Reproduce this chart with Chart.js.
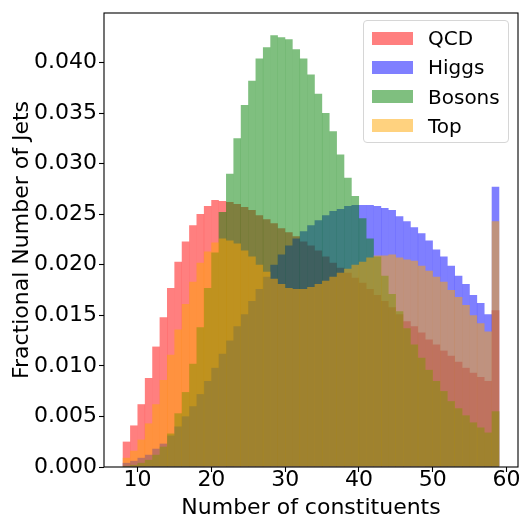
<!DOCTYPE html>
<html>
<head>
<meta charset="utf-8">
<title>Number of constituents</title>
<script src="https://cdn.jsdelivr.net/npm/chart.js@4.4.0/dist/chart.umd.min.js"></script>
<style>
    html, body { margin: 0; padding: 0; background: #fff; }
    #wrap { position: relative; width: 532px; height: 532px; }
    #legend {
        position: absolute; left: 363px; top: 20px; width: 146px; height: 123px;
        box-sizing: border-box; border: 1px solid #d6d6d6; border-radius: 4px;
        background: rgba(255, 255, 255, 0.8);
        font-family: 'DejaVu Sans', sans-serif; font-size: 20px; color: #000;
    }
    #legend .swatch { position: absolute; left: 8px; width: 41px; height: 13px; }
    #legend .label { position: absolute; left: 64px; line-height: 20px; white-space: nowrap; }
</style>
</head>
<body>
<div id="wrap">
    <canvas id="chart" width="532" height="532"></canvas>
    <div id="legend"></div>
</div>
<script>
// Histogram bins: left edge of each unit-wide bin
const binEdges = [8, 9, 10, 11, 12, 13, 14, 15, 16, 17, 18, 19, 20, 21, 22, 23, 24, 25, 26, 27,
    28, 29, 30, 31, 32, 33, 34, 35, 36, 37, 38, 39, 40, 41, 42, 43, 44, 45, 46, 47,
    48, 49, 50, 51, 52, 53, 54, 55, 56, 57, 58];

// Fractional number of jets per bin
const qcd = [0.0025, 0.0041, 0.0062, 0.0088, 0.0119, 0.0148, 0.0177, 0.0203, 0.0223, 0.0239,
    0.0250, 0.0258, 0.0264, 0.0263, 0.0262, 0.0260, 0.0257, 0.0254, 0.0249, 0.0245,
    0.0241, 0.0236, 0.0232, 0.0228, 0.0223, 0.0219, 0.0214, 0.0208, 0.0202, 0.0197,
    0.0192, 0.0187, 0.0182, 0.0176, 0.0170, 0.0164, 0.0158, 0.0151, 0.0144, 0.0139,
    0.0133, 0.0126, 0.0121, 0.0115, 0.0110, 0.0104, 0.0098, 0.0093, 0.0089, 0.0085, 0.0155];
const higgs = [0.0004, 0.0006, 0.0009, 0.0012, 0.0018, 0.0023, 0.0031, 0.0040, 0.0050, 0.0060,
    0.0072, 0.0085, 0.0098, 0.0112, 0.0125, 0.0139, 0.0151, 0.0164, 0.0176, 0.0188,
    0.0200, 0.0210, 0.0219, 0.0226, 0.0233, 0.0239, 0.0244, 0.0249, 0.0253, 0.0255,
    0.0258, 0.0259, 0.0259, 0.0259, 0.0258, 0.0256, 0.0254, 0.0248, 0.0243, 0.0237,
    0.0231, 0.0224, 0.0215, 0.0208, 0.0199, 0.0189, 0.0181, 0.0170, 0.0162, 0.0151, 0.0277];
const bosons = [0.0001, 0.0002, 0.0004, 0.0007, 0.0012, 0.0020, 0.0033, 0.0053, 0.0074, 0.0102,
    0.0138, 0.0177, 0.0212, 0.0252, 0.0290, 0.0325, 0.0358, 0.0382, 0.0404, 0.0415,
    0.0427, 0.0425, 0.0423, 0.0413, 0.0404, 0.0388, 0.0369, 0.0350, 0.0332, 0.0309,
    0.0286, 0.0268, 0.0246, 0.0226, 0.0208, 0.0189, 0.0171, 0.0154, 0.0137, 0.0121,
    0.0108, 0.0096, 0.0085, 0.0075, 0.0065, 0.0058, 0.0051, 0.0044, 0.0039, 0.0034, 0.0055];
const top_ = [0.0009, 0.0016, 0.0027, 0.0043, 0.0062, 0.0086, 0.0111, 0.0136, 0.0161, 0.0183,
    0.0202, 0.0213, 0.0222, 0.0226, 0.0224, 0.0221, 0.0214, 0.0208, 0.0200, 0.0193,
    0.0186, 0.0181, 0.0177, 0.0176, 0.0176, 0.0178, 0.0181, 0.0184, 0.0188, 0.0192,
    0.0196, 0.0200, 0.0203, 0.0207, 0.0209, 0.0209, 0.0210, 0.0207, 0.0205, 0.0204,
    0.0199, 0.0194, 0.0188, 0.0183, 0.0175, 0.0168, 0.0160, 0.0150, 0.0142, 0.0134, 0.0243];

// Axis ticks
const xTicks = [10, 20, 30, 40, 50, 60];
const yTicks = [0, 0.005, 0.010, 0.015, 0.020, 0.025, 0.030, 0.035, 0.040];

(function() {
    const FONT = 'DejaVu Sans';

    function toPoints(values) {
        return values.map((v, i) => ({ x: binEdges[i] + 0.5, y: v }));
    }

    function histDataset(label, values, color, order) {
        return {
            label: label,
            data: toPoints(values),
            backgroundColor: color,
            borderWidth: 0,
            barPercentage: 1.0,
            categoryPercentage: 1.0,
            inflateAmount: 0.1,
            grouped: false,
            order: order   // lower order is drawn on top, like later hist() calls
        };
    }

    // Full box around the plot, drawn over the bars like matplotlib spines
    const framePlugin = {
        id: 'frame',
        afterDatasetsDraw(chart) {
            const { ctx, chartArea: a } = chart;
            ctx.save();
            ctx.strokeStyle = '#000';
            ctx.lineWidth = 1.1;
            ctx.strokeRect(a.left, a.top, a.right - a.left, a.bottom - a.top);
            ctx.restore();
        }
    };

    const tickFont = { family: FONT, size: 22, lineHeight: 1 };
    const gridOpts = {
        drawOnChartArea: false,
        drawTicks: true,
        tickLength: 5,
        tickWidth: 1.1,
        tickColor: '#000'
    };

    const chart = new Chart(document.getElementById('chart'), {
        type: 'bar',
        data: {
            datasets: [
                histDataset('QCD', qcd, 'rgba(255, 0, 0, 0.5)', 4),
                histDataset('Higgs', higgs, 'rgba(0, 0, 255, 0.5)', 3),
                histDataset('Bosons', bosons, 'rgba(0, 128, 0, 0.5)', 2),
                histDataset('Top', top_, 'rgba(255, 165, 0, 0.5)', 1)
            ]
        },
        options: {
            responsive: false,
            animation: false,
            devicePixelRatio: 1,
            layout: { padding: { top: 9, right: 14, left: 0, bottom: 0 } },
            plugins: {
                legend: { display: false },
                tooltip: { enabled: false }
            },
            scales: {
                x: {
                    type: 'linear',
                    min: 5.45,
                    max: 61.55,
                    offset: false,
                    grid: Object.assign({ offset: false }, gridOpts),
                    border: { display: false },
                    afterBuildTicks: (scale) => { scale.ticks = xTicks.map(v => ({ value: v })); },
                    afterFit: (scale) => { scale.height = 65; },
                    ticks: {
                        font: tickFont,
                        color: '#000',
                        padding: -3,
                        maxRotation: 0,
                        autoSkip: false,
                        callback: (v) => String(v)
                    },
                    title: {
                        display: true,
                        text: 'Number of constituents',
                        color: '#000',
                        font: { family: FONT, size: 22, lineHeight: 1.2 },
                        padding: { top: 0, bottom: 11 }
                    }
                },
                y: {
                    type: 'linear',
                    min: 0,
                    max: 0.0449,
                    grid: gridOpts,
                    border: { display: false },
                    afterBuildTicks: (scale) => { scale.ticks = yTicks.map(v => ({ value: v })); },
                    afterFit: (scale) => { scale.width = 104; },
                    ticks: {
                        font: tickFont,
                        color: '#000',
                        padding: 2,
                        autoSkip: false,
                        callback: (v) => v.toFixed(3)
                    },
                    title: {
                        display: true,
                        text: 'Fractional Number of Jets',
                        color: '#000',
                        font: { family: FONT, size: 22, lineHeight: 1.2 },
                        padding: { top: 9, bottom: 0 }
                    }
                }
            }
        },
        plugins: [framePlugin]
    });

    // Legend built from the chart's datasets (matplotlib-style, upper right)
    const legend = document.getElementById('legend');
    const firstRow = 17;   // row centre, px from legend top
    const rowStep = 29.3;
    chart.data.datasets.forEach((ds, i) => {
        const c = firstRow + i * rowStep;
        const sw = document.createElement('div');
        sw.className = 'swatch';
        sw.style.top = (c - 6.5) + 'px';
        sw.style.background = ds.backgroundColor;
        const lb = document.createElement('div');
        lb.className = 'label';
        lb.style.top = (c - 10) + 'px';
        lb.textContent = ds.label;
        legend.appendChild(sw);
        legend.appendChild(lb);
    });
})();
</script>
</body>
</html>
